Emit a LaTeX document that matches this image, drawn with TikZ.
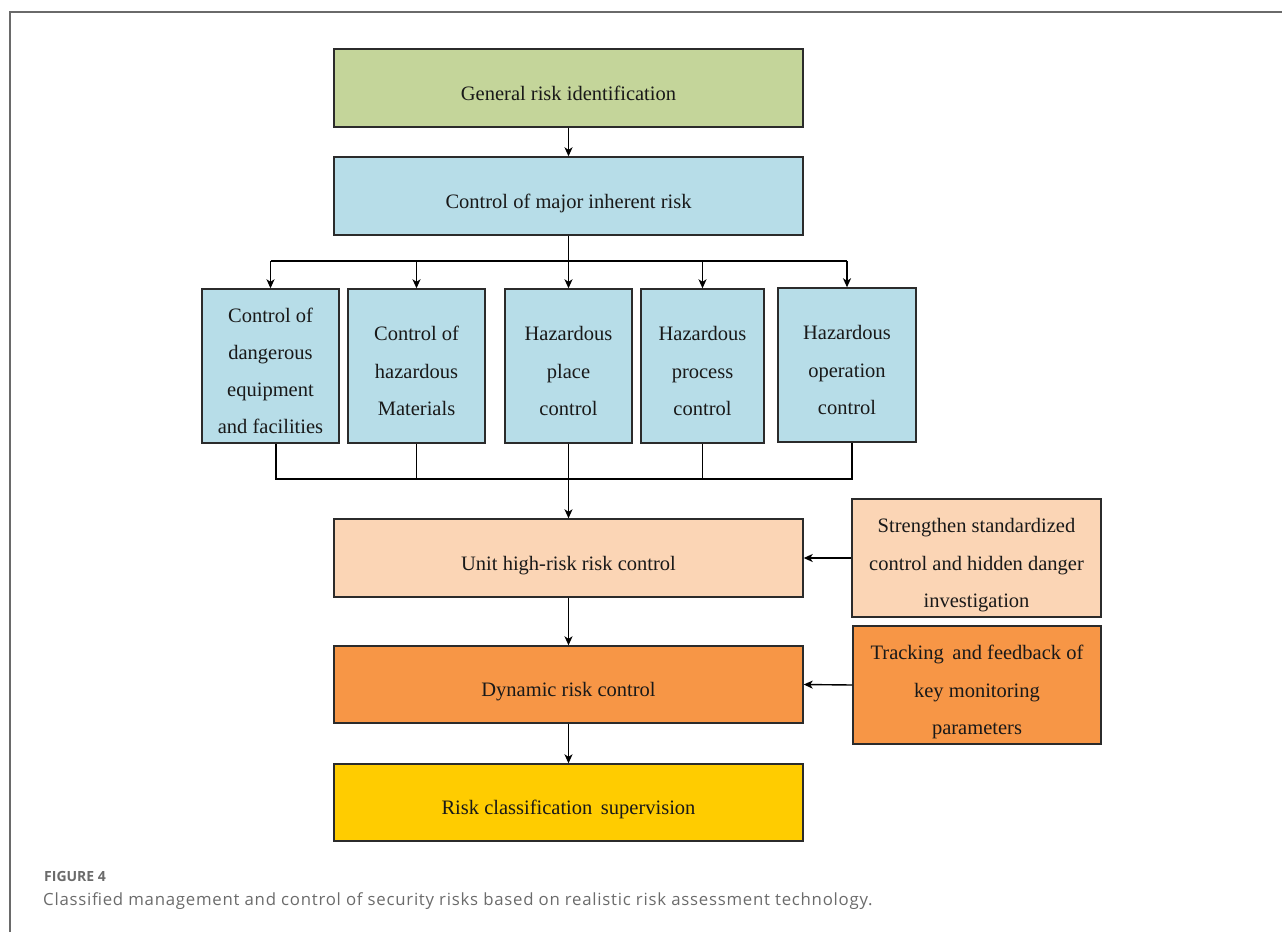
\documentclass[tikz,border=0pt]{standalone}
\usepackage{fontspec}
\setmainfont{Liberation Serif}
\newfontfamily\capfont[LetterSpace=4.4]{Open Sans}
\newfontfamily\figfont{Open Sans}
\usetikzlibrary{arrows.meta,calc}
\definecolor{cgreen}{HTML}{C4D59A}
\definecolor{cblue}{HTML}{B7DDE8}
\definecolor{cpeach}{HTML}{FBD5B5}
\definecolor{corange}{HTML}{F79646}
\definecolor{cyellow}{HTML}{FFCC00}
\definecolor{cedge}{HTML}{2B2B2B}
\definecolor{cframe}{HTML}{6A6A6A}
\newcommand\tstr{\rule{0pt}{28.5pt}}
\newcommand\bstr{\rule[-4.5pt]{0pt}{4.5pt}}
\begin{document}
\begin{tikzpicture}[x=1pt,y=-1pt,
  box/.style={draw=cedge,line width=1.4pt,inner sep=0pt,align=center,
    font=\fontsize{20.5}{37.3}\selectfont,text=black!90},
  wide/.style={box,minimum width=469pt,minimum height=78pt},
  tall/.style={box,minimum height=154pt},
  side/.style={box,minimum width=249pt,minimum height=118pt},
  conn/.style={line width=1.4pt,black},
  arr/.style={conn,-{Stealth[length=9pt,width=8pt,inset=2.5pt]}}]
\useasboundingbox (0,0) rectangle (1282,932);
\draw[cframe,line width=1.5pt] (10,932) -- (10,12) -- (1282,12);

\node[wide,fill=cgreen] (gen) at (568.5,88) {\tstr General risk identification\bstr};
\node[wide,fill=cblue] (maj) at (568.5,196) {\tstr Control of major inherent risk\bstr};
\node[tall,fill=cblue,minimum width=137pt] (b1) at (270.5,366) {\tstr Control of\\dangerous\\equipment\\and facilities\bstr};
\node[tall,fill=cblue,minimum width=137pt] (b2) at (416.5,366) {\tstr Control of\\hazardous\\Materials\bstr};
\node[tall,fill=cblue,minimum width=127pt] (b3) at (568.5,366) {\tstr Hazardous\\place\\control\bstr};
\node[tall,fill=cblue,minimum width=123pt] (b4) at (702.5,366) {\tstr Hazardous\\process\\control\bstr};
\node[tall,fill=cblue,minimum width=138pt] (b5) at (847,365) {\tstr Hazardous\\operation\\control\bstr};
\node[wide,fill=cpeach] (unit) at (568.5,558) {\tstr Unit high-risk risk control\bstr};
\node[side,fill=cpeach] (str) at (976.5,558) {\tstr Strengthen standardized\\control and hidden danger\\investigation\bstr};
\node[wide,fill=corange,minimum height=77pt] (dyn) at (568.5,684.5) {\tstr Dynamic risk control\bstr};
\node[side,fill=corange,minimum width=248pt] (trk) at (977,685) {\tstr Tracking\, and feedback of\\key monitoring\\parameters\bstr};
\node[wide,fill=cyellow,minimum height=77pt] (risk) at (568.5,802.5) {\tstr Risk classification\, supervision\bstr};

\draw[arr] (gen.south) -- (maj.north);
\coordinate (tb) at (568.5,261);
\coordinate (bb) at (568.5,479);
\draw[arr] (maj.south) -- (b3.north);
\draw[conn] (b1.north |- tb) -- (b5.north |- tb);
\draw[arr] (b1.north |- tb) -- (b1.north);
\draw[arr] (b2.north |- tb) -- (b2.north);
\draw[arr] (b4.north |- tb) -- (b4.north);
\draw[arr] (b5.north |- tb) -- (b5.north);
\draw[conn] ([xshift=5.5pt]b1.south) -- ([xshift=5.5pt]b1.south |- bb) -- ([xshift=5pt]b5.south |- bb) -- ([xshift=5pt]b5.south);
\draw[conn] (b2.south) -- (b2.south |- bb);
\draw[conn] (b4.south) -- (b4.south |- bb);
\draw[arr] (b3.south) -- (unit.north);
\draw[arr] (unit.south) -- (dyn.north);
\draw[arr] (dyn.south) -- (risk.north);
\draw[arr] (str.west) -- (unit.east);
\draw[arr] (trk.west) -- (dyn.east);

\node[anchor=base west,inner sep=0pt,font=\figfont\bfseries\fontsize{14}{16}\selectfont,text=black!58] (fig) at (44,881) {FIGURE 4};
\node[anchor=base west,inner sep=0pt,font=\capfont\fontsize{16.8}{19}\selectfont,text=black!58] (cap) at (43,905) {Classified management and control of security risks based on realistic risk assessment technology.};
\end{tikzpicture}
\end{document}
